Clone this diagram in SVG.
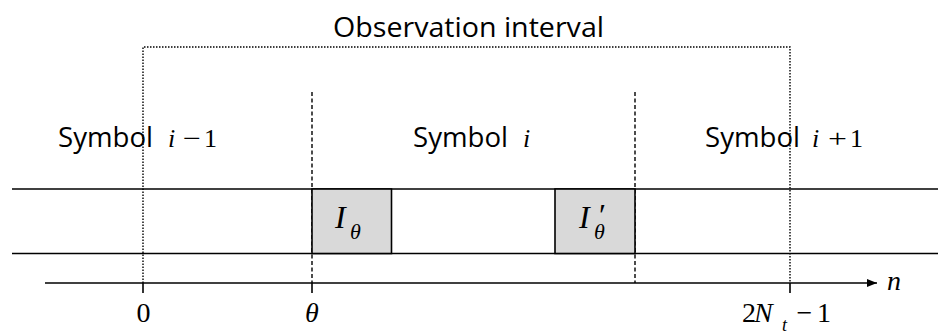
<svg xmlns="http://www.w3.org/2000/svg" width="938" height="331" viewBox="0 0 938 331">
<defs>
<style>
.sans{font-family:"Open Sans","Noto Sans",sans-serif;font-size:27px;fill:#000}
.math{font-family:"Liberation Serif","Times New Roman",serif;font-size:28px;fill:#000}
.sm{font-size:26px}
.big{font-size:32px}
.sub{font-size:22px}
.tiny{font-size:18px}
.it{font-style:italic}
.line{stroke:#000;stroke-width:1.6;fill:none}
.dot{stroke:#000;stroke-width:1.4;stroke-dasharray:1.5 1.5;fill:none}
.dash{stroke:#000;stroke-width:1.4;stroke-dasharray:4 2.5;fill:none}
.box{fill:#d9d9d9;stroke:#000;stroke-width:1.6}
</style>
<marker id="arr" viewBox="0 0 10 8" refX="10" refY="4" markerWidth="10" markerHeight="8" markerUnits="userSpaceOnUse" orient="auto">
<path d="M0,0 L10,4 L0,8 z" fill="#000"/>
</marker>
</defs>
<rect width="938" height="331" fill="#fff"/>
<g id="connectors">
<path class="dot" d="M143,283 V47 H790 V283"/>
<line class="dash" x1="312" y1="92" x2="312" y2="283"/>
<line class="dash" x1="635" y1="92" x2="635" y2="283"/>
<line class="line" x1="12" y1="189" x2="938" y2="189"/>
<line class="line" x1="12" y1="253.5" x2="938" y2="253.5"/>
<line class="line" x1="45" y1="283" x2="877" y2="283" marker-end="url(#arr)"/>
<line class="line" x1="143" y1="283" x2="143" y2="293"/>
<line class="line" x1="312" y1="283" x2="312" y2="293"/>
<line class="line" x1="790" y1="283" x2="790" y2="293"/>
</g>
<g id="title"><text class="sans" x="333" y="37" textLength="271" lengthAdjust="spacingAndGlyphs">Observation interval</text></g>
<g id="sym-prev"><text class="sans" x="58" y="147" textLength="95" lengthAdjust="spacingAndGlyphs">Symbol</text><text class="math sm it" x="168" y="147">i</text><text class="math sm" x="183" y="147" textLength="18" lengthAdjust="spacingAndGlyphs">−</text><text class="math sm" x="204" y="147">1</text></g>
<g id="sym-cur"><text class="sans" x="413" y="147" textLength="95" lengthAdjust="spacingAndGlyphs">Symbol</text><text class="math sm it" x="523" y="147">i</text></g>
<g id="sym-next"><text class="sans" x="705" y="147" textLength="95" lengthAdjust="spacingAndGlyphs">Symbol</text><text class="math sm it" x="812" y="147">i</text><text class="math sm" x="828" y="147" textLength="19" lengthAdjust="spacingAndGlyphs">+</text><text class="math sm" x="850" y="147">1</text></g>
<g id="box1"><rect class="box" x="312" y="189" width="79.5" height="64.5"/><text class="math big it" x="335" y="228">I</text><text class="math sub it" x="350" y="239">θ</text></g>
<g id="box2"><rect class="box" x="555" y="189" width="80" height="64.5"/><text class="math big it" x="579" y="228">I</text><text class="math big" x="599" y="226">′</text><text class="math sub it" x="594" y="239">θ</text></g>
<g id="labels">
<text class="math" x="143.5" y="322" text-anchor="middle">0</text>
<text class="math it" x="312" y="322" text-anchor="middle">θ</text>
<text class="math" x="742" y="322">2</text><text class="math it" x="754" y="322">N</text><text class="math tiny it" x="782" y="331">t</text><text class="math" x="804.5" y="322" text-anchor="middle">−</text><text class="math" x="817" y="322">1</text>
<text class="math it" x="887" y="290">n</text>
</g>
</svg>
